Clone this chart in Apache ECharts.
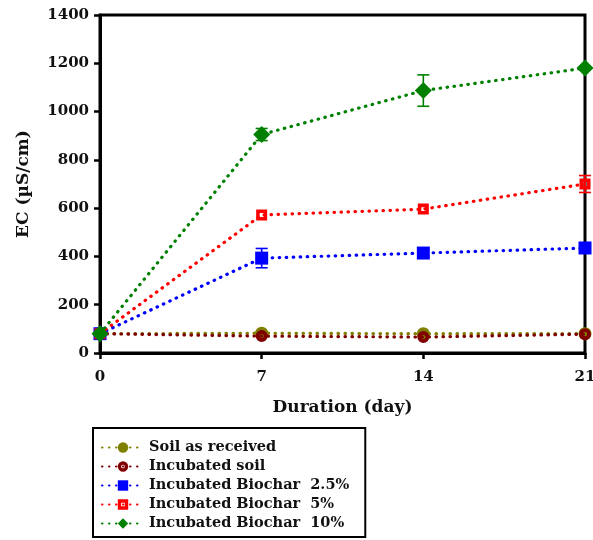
<!DOCTYPE html>
<html>
<head>
<meta charset="utf-8">
<script src="https://cdn.jsdelivr.net/npm/echarts@6/dist/echarts.min.js"></script>
<style>
  html, body { margin: 0; padding: 0; background: #fff; }
  #chart { width: 593px; height: 540px; }
</style>
</head>
<body>
<div id="chart"></div>
<script>
var days = [0, 7, 14, 21];

var soilReceived = [80, 82, 80, 80];
var incubatedSoil = [80, 70, 66, 78];
var biochar25 = [80, 393, 414, 435];
var biochar5 = [80, 572, 596, 700];
var biochar10 = [80, 905, 1087, 1180];

// error bar half widths
var errSoilReceived = [0, 0, 0, 0];
var errIncubatedSoil = [0, 0, 0, 0];
var errBiochar25 = [0, 40, 0, 0];
var errBiochar5 = [0, 0, 0, 35];
var errBiochar10 = [0, 25, 65, 0];

var seriesNames = ['Soil as received', 'Incubated soil', 'Incubated Biochar  2.5%', 'Incubated Biochar  5%', 'Incubated Biochar  10%'];

// thick hollow markers (ring / framed square)
var ringSymbol = 'path://M-10,0A10,10,0,1,0,10,0A10,10,0,1,0,-10,0ZM-3.6,0A3.6,3.6,0,1,1,3.6,0A3.6,3.6,0,1,1,-3.6,0Z';
var frameSymbol = 'path://M0,0H10V10H0ZM3.2,3.2V6.8H6.8V3.2Z';

(function () {
    var chart = echarts.init(document.getElementById('chart'));
    var font = 'DejaVu Serif';

    var toPairs = function (vals) {
        return days.map(function (d, i) { return [d, vals[i]]; });
    };

    var dotted = function (color) {
        return { color: color, width: 3.2, type: [0.5, 6.5], cap: 'round' };
    };

    var errorSeries = function (vals, errs, color) {
        var data = [];
        for (var i = 0; i < days.length; i++) {
            if (errs[i] > 0) data.push([days[i], vals[i] - errs[i], vals[i] + errs[i]]);
        }
        return {
            type: 'custom',
            z: 1,
            silent: true,
            data: data,
            renderItem: function (params, api) {
                var lo = api.coord([api.value(0), api.value(1)]);
                var hi = api.coord([api.value(0), api.value(2)]);
                var hw = 6;
                var style = { stroke: color, lineWidth: 1.6 };
                return {
                    type: 'group',
                    children: [
                        { type: 'line', shape: { x1: lo[0], y1: lo[1], x2: hi[0], y2: hi[1] }, style: style },
                        { type: 'line', shape: { x1: lo[0] - hw, y1: lo[1], x2: lo[0] + hw, y2: lo[1] }, style: style },
                        { type: 'line', shape: { x1: hi[0] - hw, y1: hi[1], x2: hi[0] + hw, y2: hi[1] }, style: style }
                    ]
                };
            }
        };
    };

    var lineSeries = function (name, vals, color, symbol, size, z) {
        return {
            name: name,
            type: 'line',
            z: z,
            clip: false,
            data: toPairs(vals),
            symbol: symbol,
            symbolSize: size,
            showAllSymbol: true,
            lineStyle: dotted(color),
            itemStyle: { color: color, borderWidth: 0 },
            emphasis: { disabled: true },
            animation: false
        };
    };

    chart.setOption({
        animation: false,
        grid: {
            left: 100, right: 8, top: 15, bottom: 187,
            outerBoundsMode: 'none',
            containLabel: false,
            show: true, borderColor: '#000', borderWidth: 3
        },
        legend: {
            orient: 'vertical',
            left: 93, top: 428,
            height: 140,
            padding: [12, 16, 6, 8],
            borderColor: '#000',
            borderWidth: 2,
            itemWidth: 42,
            itemHeight: 13,
            itemGap: 4,
            textStyle: { fontFamily: font, fontWeight: 'bold', fontSize: 14.5, color: '#111' },
            data: seriesNames
        },
        xAxis: {
            type: 'value',
            min: 0, max: 21, interval: 7,
            name: 'Duration (day)',
            nameLocation: 'middle',
            nameGap: 46,
            nameTextStyle: { fontFamily: font, fontWeight: 'bold', fontSize: 17, color: '#111' },
            axisLine: { lineStyle: { color: '#000', width: 3 } },
            axisTick: { show: true, length: 6, lineStyle: { color: '#000', width: 2.5 } },
            axisLabel: { margin: 17, fontFamily: font, fontWeight: 'bold', fontSize: 15, color: '#111' },
            splitLine: { show: false }
        },
        yAxis: {
            type: 'value',
            min: 0, max: 1400, interval: 200,
            name: 'EC (µS/cm)',
            nameLocation: 'middle',
            nameGap: 68,
            nameTextStyle: { fontFamily: font, fontWeight: 'bold', fontSize: 17, color: '#111' },
            axisLine: { show: true, lineStyle: { color: '#000', width: 3 } },
            axisTick: { show: true, length: 6, lineStyle: { color: '#000', width: 2.5 } },
            axisLabel: {
                margin: 11, fontFamily: font, fontWeight: 'bold', fontSize: 15, color: '#111',
                formatter: function (v) { return String(v); }
            },
            splitLine: { show: false }
        },
        series: [
            lineSeries(seriesNames[0], soilReceived, '#808000', 'circle', 13, 3),
            lineSeries(seriesNames[1], incubatedSoil, '#800000', ringSymbol, 12, 4),
            lineSeries(seriesNames[2], biochar25, '#0000ff', 'rect', 13, 5),
            lineSeries(seriesNames[3], biochar5, '#ff0000', frameSymbol, 11, 6),
            lineSeries(seriesNames[4], biochar10, '#008000', 'diamond', 17, 7),
            errorSeries(soilReceived, errSoilReceived, '#808000'),
            errorSeries(incubatedSoil, errIncubatedSoil, '#800000'),
            errorSeries(biochar25, errBiochar25, '#0000ff'),
            errorSeries(biochar5, errBiochar5, '#ff0000'),
            errorSeries(biochar10, errBiochar10, '#008000')
        ]
    });
})();
</script>
</body>
</html>
